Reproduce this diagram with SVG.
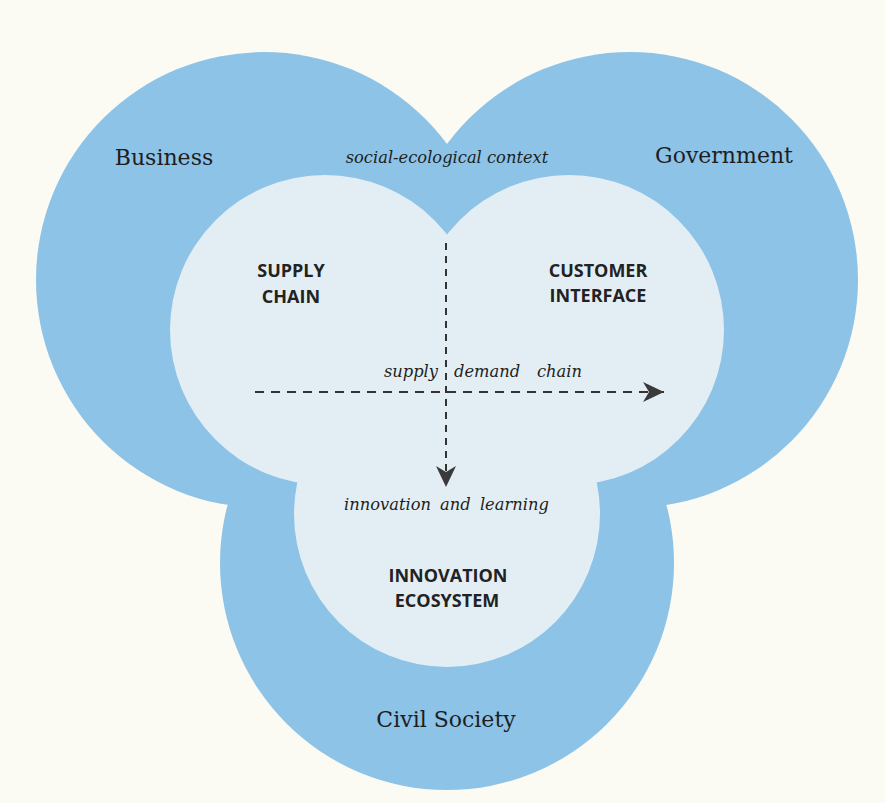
<svg xmlns="http://www.w3.org/2000/svg" width="885" height="803" viewBox="0 0 885 803">
  <defs>
    <style>
      .outer { fill: #8dc3e7; }
      .inner { fill: #e3eef4; }
      .sector { font-family: "DejaVu Serif", "Liberation Serif", serif; font-size: 22px; fill: #1e1e1e; text-anchor: middle; }
      .flow { font-family: "DejaVu Serif", "Liberation Serif", serif; font-style: italic; font-size: 16.3px; fill: #1e1e1e; }
      .system { font-family: "Open Sans", "Liberation Sans", sans-serif; font-weight: 700; font-size: 18px; fill: #222; text-anchor: middle; }
      .dash { fill: none; stroke: #333; stroke-width: 2; }
    </style>
    <marker id="head" markerUnits="userSpaceOnUse" markerWidth="24" markerHeight="24" viewBox="-22 -11 24 22" refX="0" refY="0" orient="auto">
      <path d="M0,0 L-21,-10 L-15,0 L-21,10 Z" fill="#3a3a3a"/>
    </marker>
  </defs>

  <!-- paper -->
  <rect width="885" height="803" fill="#fbfaf3"/>

  <!-- outer spheres -->
  <g id="business">
    <circle class="outer" cx="264" cy="280" r="228"/>
  </g>
  <g id="government">
    <circle class="outer" cx="630" cy="280" r="228"/>
  </g>
  <g id="civil-society">
    <circle class="outer" cx="447" cy="563" r="227"/>
  </g>

  <!-- inner systems -->
  <g id="supply-chain">
    <circle class="inner" cx="325" cy="330" r="155"/>
  </g>
  <g id="customer-interface">
    <circle class="inner" cx="569" cy="330" r="155"/>
  </g>
  <g id="innovation-ecosystem">
    <circle class="inner" cx="447" cy="514" r="153"/>
  </g>

  <!-- sector labels -->
  <g id="sector-labels">
    <text class="sector" x="164" y="165">Business</text>
    <text class="sector" x="724" y="163">Government</text>
    <text class="sector" x="446" y="727">Civil Society</text>
    <text class="flow" x="447" y="163" text-anchor="middle">social-ecological context</text>
  </g>

  <!-- system labels -->
  <g id="system-labels">
    <text class="system" x="291" y="277">SUPPLY</text>
    <text class="system" x="291" y="303">CHAIN</text>
    <text class="system" x="598" y="277">CUSTOMER</text>
    <text class="system" x="598" y="302">INTERFACE</text>
    <text class="system" x="448" y="582">INNOVATION</text>
    <text class="system" x="447" y="607">ECOSYSTEM</text>
  </g>

  <!-- flows -->
  <g id="connectors">
    <line class="dash" x1="255" y1="392" x2="664" y2="392" stroke-dasharray="9 7" marker-end="url(#head)"/>
    <line class="dash" x1="446" y1="243" x2="446" y2="487" stroke-dasharray="7 6" marker-end="url(#head)"/>
  </g>
  <g id="flow-labels">
    <text class="flow" x="438" y="377" text-anchor="end">supply</text>
    <text class="flow" x="454" y="377">demand</text>
    <text class="flow" x="537" y="377">chain</text>
    <text class="flow" x="344" y="510" word-spacing="4">innovation and learning</text>
  </g>
</svg>
